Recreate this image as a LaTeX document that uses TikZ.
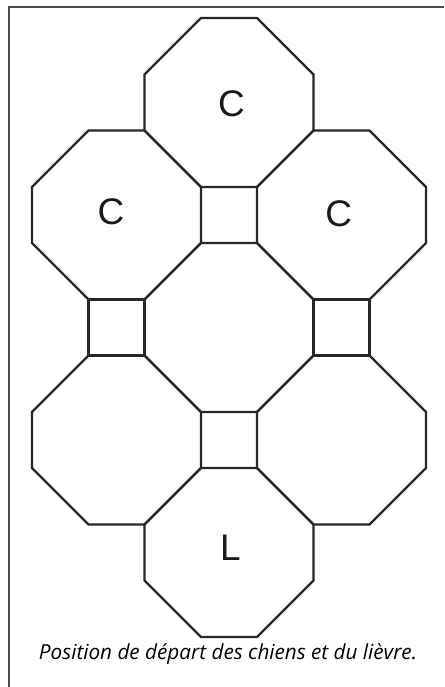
\documentclass[tikz,border=0pt]{standalone}
\usepackage{fontspec}
\newfontfamily\letterfont{Liberation Sans}
\newfontfamily\capfont{Open Sans}
\begin{document}
\begin{tikzpicture}[x=1pt,y=-1pt,
  board/.style={line width=2.2pt,draw=black!85,line join=miter},
  frameline/.style={line width=1.8pt,draw=black!70},
  piece/.style={inner sep=0pt,font=\letterfont\fontsize{37}{37}\selectfont,text=black!90}]
\useasboundingbox (0,0) rectangle (444,687);
% frame (only top and left edges visible)
\coordinate (fbl) at (9,687);
\coordinate (ftl) at (9,7);
\coordinate (ftr) at (444,7);
\draw[frameline] (fbl) -- (ftl) -- (ftr);
% octagons
\foreach \cx/\cy in {229/102.5,116.5/215,341.5/215,229/327.5,116.5/440,341.5/440,229/552.5}{
  \draw[board,shift={(\cx,\cy)}] (-28,-84.5) -- (28,-84.5) -- (84.5,-28) -- (84.5,28)
     -- (28,84.5) -- (-28,84.5) -- (-84.5,28) -- (-84.5,-28) -- cycle;
}
% squares
\foreach \cx/\cy in {229/215,116.5/327.5,341.5/327.5,229/440}{
  \draw[board,shift={(\cx,\cy)}] (-28,-28) rectangle (28,28);
}
% pieces
\node[piece] (c1) at (231.5,103.5) {C};
\node[piece] (c2) at (111,212) {C};
\node[piece] (c3) at (338.7,213.8) {C};
\node[piece] (l1) at (230.5,548) {L};
% caption
\node[anchor=base,inner sep=0pt,text=black] (cap) at (228,659)
  {\resizebox{378pt}{!}{\capfont\itshape\fontsize{17}{17}\selectfont Position de départ des chiens et du lièvre.}};
\end{tikzpicture}
\end{document}
